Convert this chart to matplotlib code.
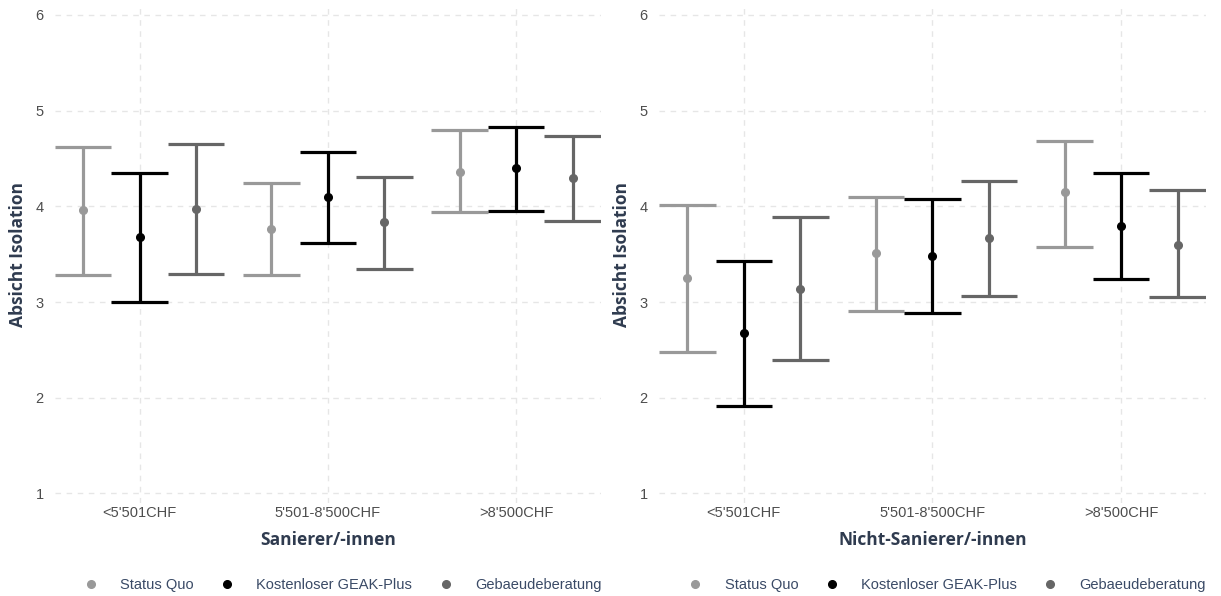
import matplotlib

matplotlib.use("Agg")

import matplotlib.pyplot as plt
import numpy as np

# Income groups and treatment arms
categories = ["<5'501CHF", "5'501-8'500CHF", ">8'500CHF"]
arms = ["Status Quo", "Kostenloser GEAK-Plus", "Gebaeudeberatung"]

# Sanierer/-innen: mean, lower, upper per arm (rows) and income group (cols)
san_mean = [[3.96, 3.76, 4.36], [3.68, 4.10, 4.40], [3.97, 3.84, 4.30]]
san_low = [[3.28, 3.28, 3.94], [3.00, 3.62, 3.95], [3.29, 3.35, 3.85]]
san_high = [[4.62, 4.24, 4.80], [4.35, 4.57, 4.83], [4.65, 4.31, 4.73]]

# Nicht-Sanierer/-innen
non_mean = [[3.25, 3.51, 4.15], [2.68, 3.48, 3.79], [3.14, 3.67, 3.60]]
non_low = [[2.48, 2.91, 3.57], [1.91, 2.89, 3.24], [2.39, 3.06, 3.05]]
non_high = [[4.01, 4.10, 4.68], [3.43, 4.08, 4.35], [3.89, 4.26, 4.17]]

COLORS = ["#999999", "#000000", "#666666"]
TICK = "#4d4d4d"
TITLE = "#2f3b4f"
LEGEND_TXT = "#3a4a66"
GRID = "#e6e6e6"

DODGE = 0.3
CAP = 0.15

plt.rcParams["font.family"] = ["Liberation Sans", "DejaVu Sans"]


def panel(ax, mean, low, high, xlabel):
    x = np.arange(1, len(categories) + 1)
    for i, (arm, color) in enumerate(zip(arms, COLORS)):
        xs = x + (i - 1) * DODGE
        m = np.array(mean[i])
        lo = np.array(low[i])
        hi = np.array(high[i])
        ax.vlines(xs, lo, hi, color=color, lw=2.3, zorder=3)
        ax.hlines(lo, xs - CAP, xs + CAP, color=color, lw=2.3, zorder=3)
        ax.hlines(hi, xs - CAP, xs + CAP, color=color, lw=2.3, zorder=3)
        ax.plot(xs, m, "o", color=color, ms=5.5, zorder=4, label=arm)

    ax.set_xlim(0.55, 3.45)
    ax.set_ylim(0.9, 6.1)
    ax.set_yticks([1, 2, 3, 4, 5, 6])
    ax.set_xticks(x, categories)
    for s in ax.spines.values():
        s.set_visible(False)
    ax.grid(True, color=GRID, lw=1.0, ls=(0, (4, 4)), zorder=0)
    ax.tick_params(axis="x", length=0, labelsize=10.5, colors=TICK, pad=2)
    ax.tick_params(axis="y", length=0, labelsize=10.5, colors=TICK, pad=8)
    ax.set_ylabel("Absicht Isolation", family="Open Sans", fontweight="bold",
                  fontsize=12.5, color=TITLE, labelpad=6)
    ax.set_xlabel(xlabel, family="Open Sans", fontweight="bold",
                  fontsize=12.5, color=TITLE, labelpad=8)
    leg = ax.legend(loc="upper center", bbox_to_anchor=(0.52, -0.125), ncol=3,
                    frameon=False, fontsize=10.5, handletextpad=1.0,
                    columnspacing=1.3, markerscale=1.0)
    for t in leg.get_texts():
        t.set_color(LEGEND_TXT)


fig = plt.figure(figsize=(12.21, 5.96), dpi=100)
ax1 = fig.add_axes([0.045, 0.156, 0.447, 0.835])
ax2 = fig.add_axes([0.5397, 0.156, 0.448, 0.835])

panel(ax1, san_mean, san_low, san_high, "Sanierer/-innen")
panel(ax2, non_mean, non_low, non_high, "Nicht-Sanierer/-innen")

fig.savefig("out.png", dpi=100, facecolor="white")
